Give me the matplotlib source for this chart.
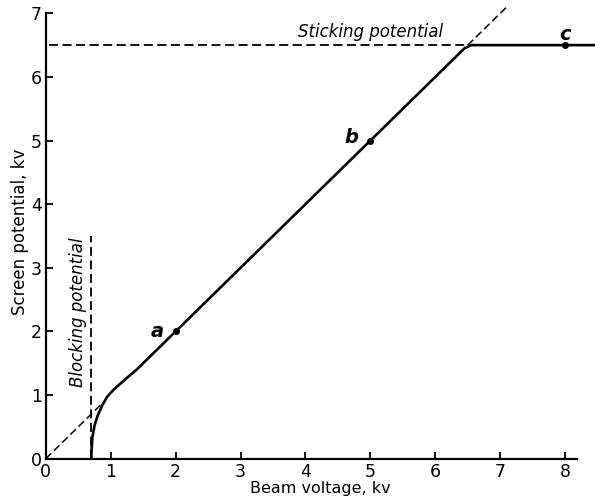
import matplotlib.pyplot as plt

# curve (beam voltage kv -> screen potential kv)
beam_kv = [0.70, 0.705, 0.72, 0.75, 0.80, 0.87, 0.95, 1.05, 1.15, 1.25, 1.40, 2.0, 5.0, 6.45, 6.55, 6.65, 8.0, 8.5]
screen_kv = [0.0, 0.15, 0.35, 0.52, 0.68, 0.84, 0.98, 1.09, 1.18, 1.27, 1.40, 2.0, 5.0, 6.45, 6.5, 6.5, 6.5, 6.5]

point_names = ["a", "b", "c"]
point_x = [2, 5, 8]
point_y = [2, 5, 6.5]

blocking_kv = 0.7
sticking_kv = 6.5

x_ticks = [0, 1, 2, 3, 4, 5, 6, 7, 8]
y_ticks = [0, 1, 2, 3, 4, 5, 6, 7]

fig = plt.figure(figsize=(5.95, 5.04), dpi=100)
ax = fig.add_axes([0.077, 0.09, 0.923, 0.90])

ax.plot(beam_kv, screen_kv, color="black", lw=1.9, solid_capstyle="round")
ax.plot(point_x, point_y, "o", color="black", ms=4)

dash = (0, (5, 2.5))
# unity line extensions
ax.plot([0, 0.85], [0, 0.85], color="black", lw=1.1, linestyle=dash)
ax.plot([6.5, 7.1], [6.5, 7.1], color="black", lw=1.1, linestyle=dash)
# blocking and sticking potentials
ax.plot([blocking_kv, blocking_kv], [0, 3.5], color="black", lw=1.3, linestyle=dash)
ax.plot([0.05, sticking_kv], [sticking_kv, sticking_kv], color="black", lw=1.3, linestyle=dash)

ax.text(5.0, 6.56, "Sticking potential", style="italic", fontsize=12,
        ha="center", va="bottom")
ax.text(0.5, 2.3, "Blocking potential", style="italic", fontsize=12,
        rotation=90, ha="center", va="center")

offsets = {"a": (-0.28, 0.0), "b": (-0.3, 0.05), "c": (0.0, 0.17)}
for name, px, py in zip(point_names, point_x, point_y):
    dx, dy = offsets[name]
    ax.text(px + dx, py + dy, name, style="italic", fontweight="bold",
            fontsize=14, ha="center", va="center")

ax.set_xlim(0, 8.46)
ax.set_ylim(0, 7.13)
ax.spines["top"].set_visible(False)
ax.spines["right"].set_visible(False)
ax.spines["bottom"].set_bounds(0, 8.18)
ax.spines["left"].set_bounds(0, 7)
for s in ("left", "bottom"):
    ax.spines[s].set_linewidth(1.6)

ax.set_xticks(x_ticks)
ax.set_yticks(y_ticks)
ax.tick_params(direction="in", length=5, width=1.3, labelsize=12.5, pad=3)
ax.set_xlabel("Beam voltage, kv", fontsize=11.5, labelpad=0)
ax.set_ylabel("Screen potential, kv", fontsize=12, labelpad=1)

fig.savefig("out.png", dpi=100)
